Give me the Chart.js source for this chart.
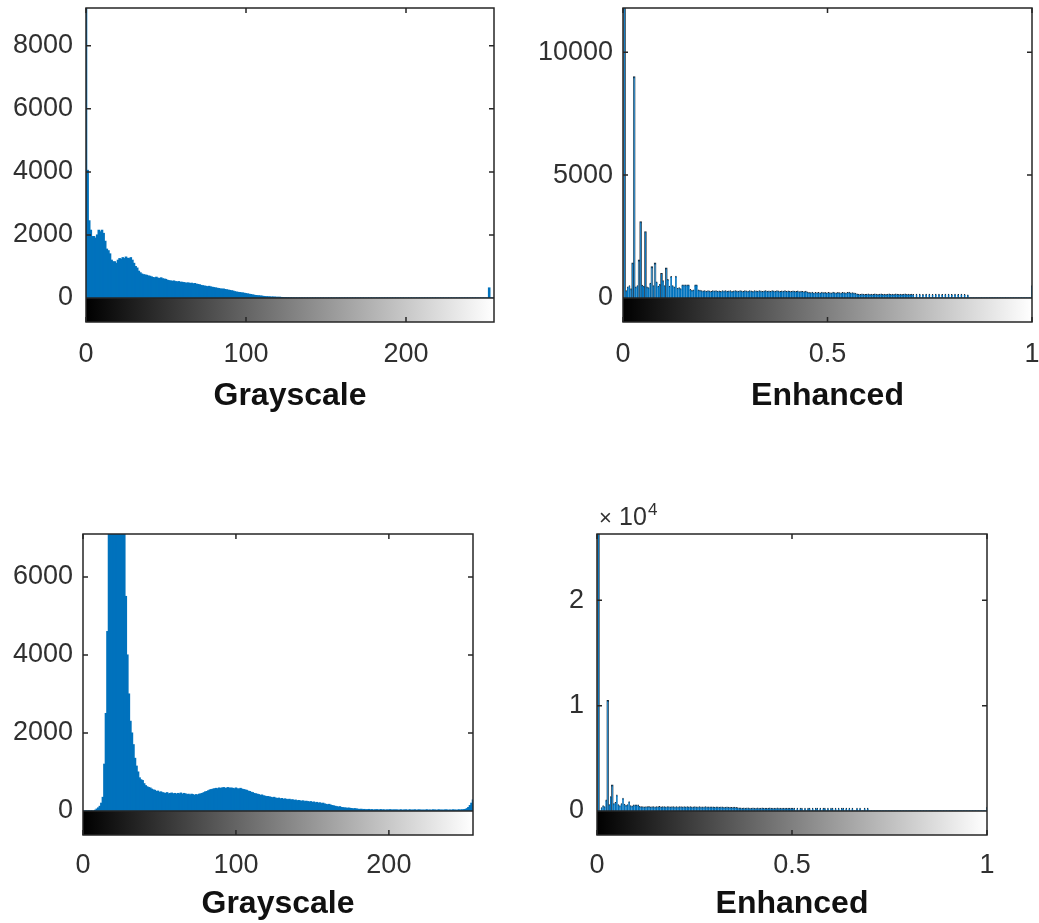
<!DOCTYPE html>
<html>
<head>
<meta charset="utf-8">
<script src="https://cdn.jsdelivr.net/npm/chart.js@4"></script>
<style>
  body { margin: 0; background: #fff; width: 1039px; height: 923px; position: relative; overflow: hidden; }
  .panel { position: absolute; }
</style>
</head>
<body>
<div class="panel"><canvas id="grayTop"></canvas></div>
<div class="panel"><canvas id="enhTop"></canvas></div>
<div class="panel"><canvas id="grayBottom"></canvas></div>
<div class="panel"><canvas id="enhBottom"></canvas></div>
<script>
// pixel counts per bin (256 bins)
const grayTopCounts = [
  9200,4050,2450,2150,1950,1950,1900,2000,2150,2100,2150,2050,1800,1550,1500,1400,
  1200,1150,1150,1100,1200,1250,1230,1280,1250,1300,1260,1250,1280,1200,1100,1000,
  950,850,800,760,740,730,720,700,690,670,650,640,660,630,620,640,
  610,600,590,560,550,540,530,540,520,510,520,500,500,490,480,470,
  480,460,470,450,460,440,430,420,400,390,380,370,360,370,350,340,
  330,320,310,300,290,280,285,270,260,250,240,230,220,200,190,180,
  175,165,160,150,140,130,120,110,100,90,80,75,70,65,60,50,
  45,40,38,35,30,32,28,25,22,25,18,15,12,10,8,6,
  5,4,3,3,2,2,1,1,0,0,0,0,0,0,0,0,
  0,0,0,0,0,0,0,0,0,0,0,0,0,0,0,0,
  0,0,0,0,0,0,0,0,0,0,0,0,0,0,0,0,
  0,0,0,0,0,0,0,0,0,0,0,0,0,0,0,0,
  0,0,0,0,0,0,0,0,0,0,0,0,0,0,0,0,
  0,0,0,0,0,0,0,0,0,0,0,0,0,0,0,0,
  0,0,0,0,0,0,0,0,0,0,0,0,0,0,0,0,
  0,0,0,0,0,0,0,0,0,0,0,0,320,0,0,0
];

const enhTopCounts = [
  0,12500,300,450,500,380,1420,9000,450,500,1550,3100,520,480,2700,450,
  420,600,1270,500,1420,650,480,550,1000,700,500,1220,750,480,870,500,
  450,880,400,420,380,530,530,530,530,530,350,320,330,530,530,330,
  320,300,280,290,270,300,280,260,290,280,300,270,280,260,290,280,
  300,270,280,290,260,280,300,280,270,290,280,260,300,280,270,290,
  280,260,290,280,270,300,280,260,280,290,270,280,260,290,280,270,
  290,280,260,280,270,290,260,280,270,260,280,270,260,280,250,270,
  260,250,270,240,220,210,230,200,220,210,220,200,230,210,220,200,
  220,210,200,230,210,200,220,210,200,220,210,200,220,230,200,210,
  200,190,160,150,140,160,150,140,150,160,140,150,140,160,150,140,
  150,160,140,150,140,150,160,140,150,140,160,150,140,150,140,150,
  160,140,150,140,150,140,0,150,0,150,0,140,0,150,0,150,
  0,140,0,150,0,150,0,140,0,150,0,150,0,140,0,150,
  0,140,0,150,0,140,0,120,0,0,0,0,0,0,0,0,
  0,0,0,0,0,0,0,0,0,0,0,0,0,0,0,0,
  0,0,0,0,0,0,0,0,0,0,0,0,0,0,0,500
];

const grayBottomCounts = [
  0,0,0,0,0,0,0,0,20,50,80,120,200,350,1200,2500,
  4600,7300,7800,8500,9000,9300,9100,8800,8400,8000,7600,7300,5500,4000,3000,2300,
  2000,1700,1350,1150,1000,850,800,780,700,650,620,600,590,560,540,530,
  500,510,480,490,470,460,450,470,440,450,460,440,450,430,450,440,
  460,430,450,440,420,430,410,430,420,400,420,410,430,440,450,470,
  490,500,520,540,550,560,570,580,570,590,580,590,600,580,590,600,
  580,590,580,570,590,570,560,580,560,550,540,530,510,500,480,470,
  450,440,430,420,400,410,390,380,370,370,360,350,340,350,330,320,
  330,310,320,300,310,300,290,300,280,290,270,280,260,270,260,250,
  260,240,250,240,230,240,220,230,210,220,200,210,190,200,180,170,
  160,170,150,140,130,120,110,100,110,90,85,80,75,70,75,65,
  60,55,60,50,45,40,45,35,40,30,35,40,30,35,25,30,
  35,25,30,35,25,30,20,30,25,35,20,30,25,30,20,25,
  30,20,25,30,20,25,30,20,25,30,20,25,30,20,25,20,
  25,30,20,25,20,30,25,20,25,30,20,25,20,30,25,20,
  25,20,30,25,20,25,30,25,30,35,40,60,90,140,200,280
];

const enhBottomCounts = [
  0,27000,0,300,500,400,1040,10500,600,1360,2460,700,800,1520,600,500,
  700,1200,650,550,600,880,500,480,570,560,580,570,420,400,410,390,
  410,400,420,390,410,400,380,410,400,420,390,400,410,380,400,410,
  390,400,410,380,400,390,410,400,380,400,390,410,380,400,390,380,
  400,390,380,400,370,390,380,400,370,380,390,370,380,360,380,370,
  360,380,370,350,360,370,350,360,340,350,360,340,300,280,290,270,
  280,270,290,280,270,260,280,270,260,280,270,260,280,270,260,270,
  260,280,270,260,270,260,280,270,260,270,260,250,270,260,250,260,
  250,260,0,260,0,250,260,0,250,0,260,250,0,260,0,250,
  260,0,250,0,260,250,0,260,0,250,260,0,250,0,260,0,
  250,260,0,250,0,260,0,250,0,0,260,0,250,0,0,260,
  0,250,0,0,0,0,0,0,0,0,0,0,0,0,0,0,
  0,0,0,0,0,0,0,0,0,0,0,0,0,0,0,0,
  0,0,0,0,0,0,0,0,0,0,0,0,0,0,0,0,
  0,0,0,0,0,0,0,0,0,0,0,0,0,0,0,0,
  0,0,0,0,0,0,0,0,0,0,0,0,0,0,0,350
];

const grayTicksX = [0, 100, 200];
const enhTicksX = [0, 0.5, 1];
const grayTopTicksY = [0, 2000, 4000, 6000, 8000];
const enhTopTicksY = [0, 5000, 10000];
const grayBottomTicksY = [0, 2000, 4000, 6000];
const enhBottomTicksY = [0, 10000, 20000];

const grayTopMax = 9200;
const enhTopMax = 11800;
const grayBottomMax = 7100;
const enhBottomMax = 26300;

const FONT = "'Liberation Sans', Arial, sans-serif";
const TEXT = "#303030";
const BLUE = "#0072bd";
const STRIP = 24; // height of the gray colorbar under each histogram

const frame = {
  id: "frame",
  afterDraw(chart, args, o) {
    const { ctx, chartArea: a, scales: { x, y } } = chart;
    const z = y.getPixelForValue(0);
    ctx.save();
    const g = ctx.createLinearGradient(x.getPixelForValue(x.min), 0, x.getPixelForValue(x.max), 0);
    g.addColorStop(0, "#000");
    g.addColorStop(1, "#fff");
    ctx.fillStyle = g;
    ctx.fillRect(a.left, z, a.right - a.left, a.bottom - z);
    ctx.strokeStyle = "#262626";
    ctx.lineWidth = 1.5;
    ctx.strokeRect(a.left, a.top, a.right - a.left, a.bottom - a.top);
    ctx.beginPath();
    ctx.moveTo(a.left, z);
    ctx.lineTo(a.right, z);
    y.ticks.forEach((t) => {
      const py = y.getPixelForValue(t.value);
      ctx.moveTo(a.left, py); ctx.lineTo(a.left + 5, py);
      ctx.moveTo(a.right, py); ctx.lineTo(a.right - 5, py);
    });
    x.ticks.forEach((t) => {
      const px = x.getPixelForValue(t.value);
      ctx.moveTo(px, a.top); ctx.lineTo(px, a.top + 5);
      ctx.moveTo(px, a.bottom); ctx.lineTo(px, a.bottom - 5);
    });
    ctx.stroke();
    if (o.exponent) {
      ctx.fillStyle = TEXT;
      ctx.textBaseline = "alphabetic";
      ctx.font = "22px " + FONT;
      ctx.fillText("\u00d7", a.left + 2, a.top - 9);
      ctx.font = "25px " + FONT;
      ctx.fillText("10", a.left + 22, a.top - 9);
      ctx.font = "17px " + FONT;
      ctx.fillText(o.exponent, a.left + 51, a.top - 19);
    }
    ctx.restore();
  },
};

const makeHist = (id, p) => {
  const canvas = document.getElementById(id);
  const wrap = canvas.parentNode;
  const left = p.area.l - p.yw;
  const top = p.area.t - p.padTop;
  const w = p.yw + (p.area.r - p.area.l) + p.padRight;
  const h = p.padTop + (p.area.b - p.area.t) + p.xh;
  wrap.style.left = left + "px";
  wrap.style.top = top + "px";
  canvas.width = w;
  canvas.height = h;

  const yMin = -p.yMax * STRIP / (p.area.b - STRIP - p.area.t);
  const tall = p.yMax * 0.08;

  return new Chart(canvas.getContext("2d"), {
    type: "bar",
    data: {
      datasets: [
        {
          data: p.counts.map((v, i) => ({ x: p.binX(i), y: v })),
          backgroundColor: BLUE,
          borderColor: "#1c2833",
          borderWidth: p.outlined
            ? (c) => (c.raw && c.raw.y > tall ? 1 : { top: 1, left: 0, right: 0, bottom: 0 })
            : 0,
          borderSkipped: "start",
          inflateAmount: 0.5,
          barPercentage: 1,
          categoryPercentage: 1,
        },
      ],
    },
    options: {
      responsive: false,
      animation: false,
      devicePixelRatio: 1,
      layout: { padding: { top: p.padTop, right: p.padRight, left: 0, bottom: 0 } },
      plugins: {
        legend: { display: false },
        tooltip: { enabled: false },
        frame: { exponent: p.exponent },
      },
      scales: {
        x: {
          type: "linear",
          min: 0,
          max: p.xMax,
          offset: false,
          grid: { display: false, drawTicks: false },
          border: { display: false },
          ticks: {
            color: TEXT,
            font: { family: FONT, size: 27 },
            padding: p.xPad,
            maxRotation: 0,
            autoSkip: false,
            callback: (v) => String(v),
          },
          title: {
            display: true,
            text: p.title,
            color: "#111",
            font: { family: FONT, size: 32, weight: "bold" },
            padding: { top: 0, bottom: p.titlePad },
          },
          afterBuildTicks: (s) => { s.ticks = p.ticksX.map((v) => ({ value: v })); },
          afterFit: (s) => { s.height = p.xh; s.paddingLeft = 0; s.paddingRight = 0; },
        },
        y: {
          min: yMin,
          max: p.yMax,
          grid: { display: false, drawTicks: false },
          border: { display: false },
          ticks: {
            color: TEXT,
            font: { family: FONT, size: 27 },
            padding: p.yPad,
            callback: p.yLabel || ((v) => String(v)),
          },
          afterBuildTicks: (s) => { s.ticks = p.ticksY.map((v) => ({ value: v })); },
          afterFit: (s) => { s.width = p.yw; s.paddingTop = 0; s.paddingBottom = 0; },
        },
      },
    },
    plugins: [frame],
  });
};

makeHist("grayTop", {
  counts: grayTopCounts, binX: (i) => i, xMax: 255, ticksX: grayTicksX, ticksY: grayTopTicksY,
  yMax: grayTopMax, title: "Grayscale",
  area: { l: 86, t: 8, r: 494, b: 322 }, yw: 86, padTop: 8, padRight: 7, xh: 98,
  xPad: 16, titlePad: 5, yPad: 13,
});

makeHist("enhTop", {
  counts: enhTopCounts, binX: (i) => i / 255, xMax: 1, ticksX: enhTicksX, ticksY: enhTopTicksY,
  yMax: enhTopMax, title: "Enhanced", outlined: true,
  area: { l: 623, t: 8, r: 1032, b: 322 }, yw: 100, padTop: 8, padRight: 7, xh: 98,
  xPad: 16, titlePad: 5, yPad: 10,
});

makeHist("grayBottom", {
  counts: grayBottomCounts, binX: (i) => i, xMax: 255, ticksX: grayTicksX, ticksY: grayBottomTicksY,
  yMax: grayBottomMax, title: "Grayscale",
  area: { l: 83, t: 534, r: 473, b: 835 }, yw: 83, padTop: 40, padRight: 10, xh: 88,
  xPad: 14, titlePad: 0, yPad: 10,
});

makeHist("enhBottom", {
  counts: enhBottomCounts, binX: (i) => i / 255, xMax: 1, ticksX: enhTicksX, ticksY: enhBottomTicksY,
  yMax: enhBottomMax, title: "Enhanced", outlined: true, exponent: "4",
  yLabel: (v) => String(v / 10000),
  area: { l: 597, t: 534, r: 987, b: 835 }, yw: 90, padTop: 40, padRight: 12, xh: 88,
  xPad: 14, titlePad: 0, yPad: 13,
});
</script>
</body>
</html>
